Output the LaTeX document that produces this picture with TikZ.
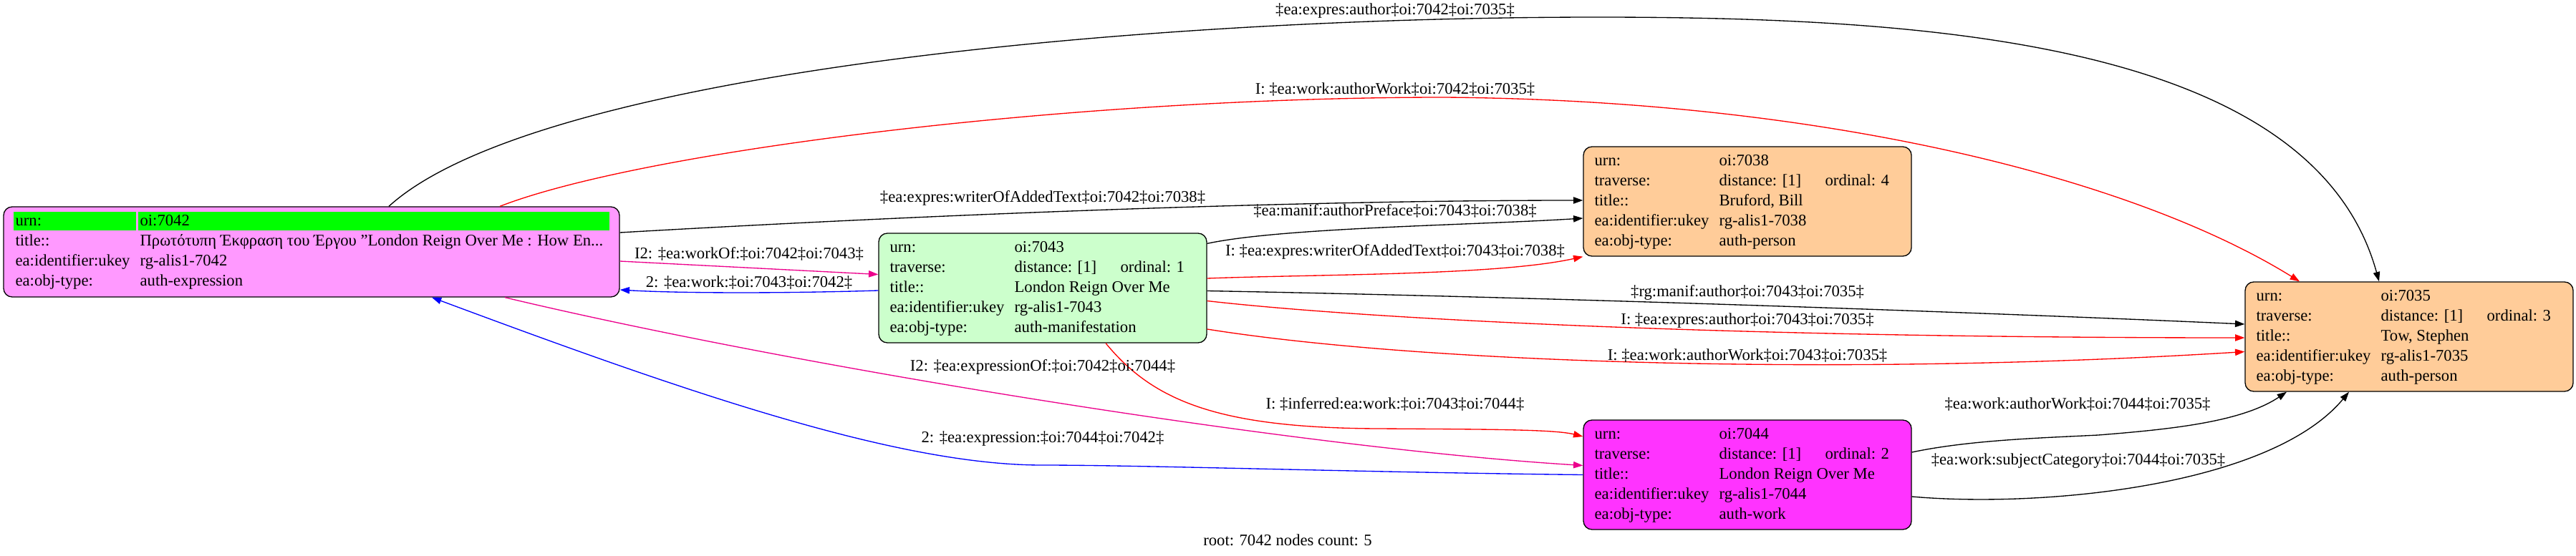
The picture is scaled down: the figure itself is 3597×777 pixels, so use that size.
\documentclass[tikz,border=0pt]{standalone}
\usepackage{fontspec}
\setmainfont{Liberation Serif}
\usepackage{xcolor}
\usepackage{tikz}
\usetikzlibrary{positioning,calc,arrows.meta}

\definecolor{expr}{RGB}{255,153,255}
\definecolor{manif}{RGB}{204,255,204}
\definecolor{person}{RGB}{255,204,153}
\definecolor{work}{RGB}{255,51,255}
\definecolor{urnrow}{RGB}{0,255,0}

\newcommand{\tbl}[1]{\begin{tabular}{@{}p{130.5pt}@{}l@{}}#1\end{tabular}}
\newcommand{\trav}[1]{\makebox[111pt][l]{distance: [1]}ordinal: #1}

\begin{document}
\begin{tikzpicture}[x=0.75pt,y=-0.75pt]
\useasboundingbox (0,0) rectangle (3597,777);
\tikzstyle{rec}=[draw,line width=1pt,rounded corners=9pt,minimum width=343.5pt,minimum height=114.75pt,inner sep=0pt]
\tikzstyle{tab}=[anchor=west,inner sep=0pt,font=\fontsize{17}{21}\selectfont]
\tikzstyle{lab}=[inner sep=0pt,text height=12pt,text depth=4pt,font=\fontsize{17}{20}\selectfont]
\tikzstyle{link}=[line width=1pt,-{Triangle[length=10pt,width=7pt]}]

% records
\draw node[rec,fill=expr,minimum width=645pt,minimum height=94.5pt] (v42) at (435,352) {};
\fill[urnrow] ($(v42.north west)+(15,8)$) rectangle ($(v42.north west)+(186,34)$);
\fill[urnrow] ($(v42.north west)+(189,8)$) rectangle ($(v42.north west)+(847,34)$);
\draw node[rec,fill=manif] (v43) at (1456,402.5) {};
\draw node[rec,fill=person] (v38) at (2440,281.5) {};
\draw node[rec,fill=work] (v44) at (2440,663.5) {};
\draw node[rec,fill=person] (v35) at (3364,470.5) {};

\node[tab] (t42) at ($(v42.west)+(17,0)$) {\tbl{urn: & oi:7042\\ title:: & Πρωτότυπη Έκφραση του Έργου "London Reign Over Me : How En...\\ ea:identifier:ukey & rg-alis1-7042\\ ea:obj-type: & auth-expression}};
\node[tab] (t43) at ($(v43.west)+(16,0)$) {\tbl{urn: & oi:7043\\ traverse: & \trav{1}\\ title:: & London Reign Over Me\\ ea:identifier:ukey & rg-alis1-7043\\ ea:obj-type: & auth-manifestation}};
\node[tab] (t38) at ($(v38.west)+(16,0)$) {\tbl{urn: & oi:7038\\ traverse: & \trav{4}\\ title:: & Bruford, Bill\\ ea:identifier:ukey & rg-alis1-7038\\ ea:obj-type: & auth-person}};
\node[tab] (t44) at ($(v44.west)+(16,0)$) {\tbl{urn: & oi:7044\\ traverse: & \trav{2}\\ title:: & London Reign Over Me\\ ea:identifier:ukey & rg-alis1-7044\\ ea:obj-type: & auth-work}};
\node[tab] (t35) at ($(v35.west)+(16,0)$) {\tbl{urn: & oi:7035\\ traverse: & \trav{3}\\ title:: & Tow, Stephen\\ ea:identifier:ukey & rg-alis1-7035\\ ea:obj-type: & auth-person}};

% links
\draw[link] ($(v42.north)+(108,0)$) .. controls (750,100) and (1600,24) .. (2230,24) .. controls (2700,24) and (3230,60) .. ($(v35.north)+(-42,0)$);
\draw[link,red] ($(v42.north)+(263,0)$) .. controls (900,210) and (1500,136) .. (2016,136) .. controls (2550,140) and (2980,250) .. ($(v35.north)+(-153,0)$);
\draw[link] ($(v42.east)+(0,-27)$) .. controls (1300,300) and (1800,280) .. ($(v38.west)+(0,-1.5)$);
\draw[link] ($(v43.north east)+(0,15)$) .. controls (1790,318) and (2050,315) .. ($(v38.west)+(0,23.5)$);
\draw[link,red] ($(v43.east)+(0,-13.5)$) .. controls (1850,383) and (2090,385) .. (v38.south west);
\draw[link] ($(v43.east)+(0,4)$) .. controls (2200,416) and (2800,438) .. ($(v35.west)+(0,-17.5)$);
\draw[link,red] ($(v43.east)+(0,18)$) .. controls (1900,445) and (2400,472) .. ($(v35.west)+(0,1.5)$);
\draw[link,red] ($(v43.east)+(0,57.5)$) .. controls (2000,510) and (2600,525) .. ($(v35.west)+(0,21)$);
\draw[link,red] ($(v43.south)+(88,0)$) .. controls (1610,560) and (1700,598) .. (1924,599) .. controls (2080,600) and (2170,600) .. ($(v44.west)+(0,-53.5)$);
\draw[link,magenta] ($(v42.east)+(0,13)$) -- ($(v43.west)+(0,-19)$);
\draw[link,blue] ($(v43.west)+(0,3.5)$) .. controls (1100,410) and (950,410) .. ($(v42.east)+(0,53)$);
\draw[link,magenta] ($(v42.south)+(270,0)$) .. controls (1100,510) and (1800,625) .. ($(v44.west)+(0,-13)$);
\draw[link,blue] (v44.west) .. controls (1900,660) and (1600,650) .. (1455,650) .. controls (1250,650) and (950,545) .. ($(v42.south)+(168,0)$);
\draw[link] ($(v44.east)+(0,-31.5)$) .. controls (2750,615) and (2850,612) .. (2930,608) .. controls (3030,600) and (3130,590) .. ($(v35.south)+(-171,0)$);
\draw[link] ($(v44.east)+(0,30.5)$) .. controls (2850,710) and (3170,680) .. ($(v35.south)+(-84,0)$);

% link labels
\foreach \x/\y/\t [count=\i] in {
  1948/15/‡ea:expres:author‡oi:7042‡oi:7035‡,
  1948/126/I: ‡ea:work:authorWork‡oi:7042‡oi:7035‡,
  1456/277/‡ea:expres:writerOfAddedText‡oi:7042‡oi:7038‡,
  1948/296/‡ea:manif:authorPreface‡oi:7043‡oi:7038‡,
  1948/352/I: ‡ea:expres:writerOfAddedText‡oi:7043‡oi:7038‡,
  2440/409/‡rg:manif:author‡oi:7043‡oi:7035‡,
  2440/448/I: ‡ea:expres:author‡oi:7043‡oi:7035‡,
  2440/498/I: ‡ea:work:authorWork‡oi:7043‡oi:7035‡,
  1948/566/I: ‡inferred:ea:work:‡oi:7043‡oi:7044‡,
  1046/356/I2: ‡ea:workOf:‡oi:7042‡oi:7043‡,
  1046/396/2: ‡ea:work:‡oi:7043‡oi:7042‡,
  1456/513/I2: ‡ea:expressionOf:‡oi:7042‡oi:7044‡,
  1456/613/2: ‡ea:expression:‡oi:7044‡oi:7042‡,
  2901/566/‡ea:work:authorWork‡oi:7044‡oi:7035‡,
  2902/644/‡ea:work:subjectCategory‡oi:7044‡oi:7035‡}
  \node[lab] (l\i) at (\x,\y) {\t};

\node[lab] (root) at (1798,757) {root: 7042 nodes count: 5};
\end{tikzpicture}
\end{document}
